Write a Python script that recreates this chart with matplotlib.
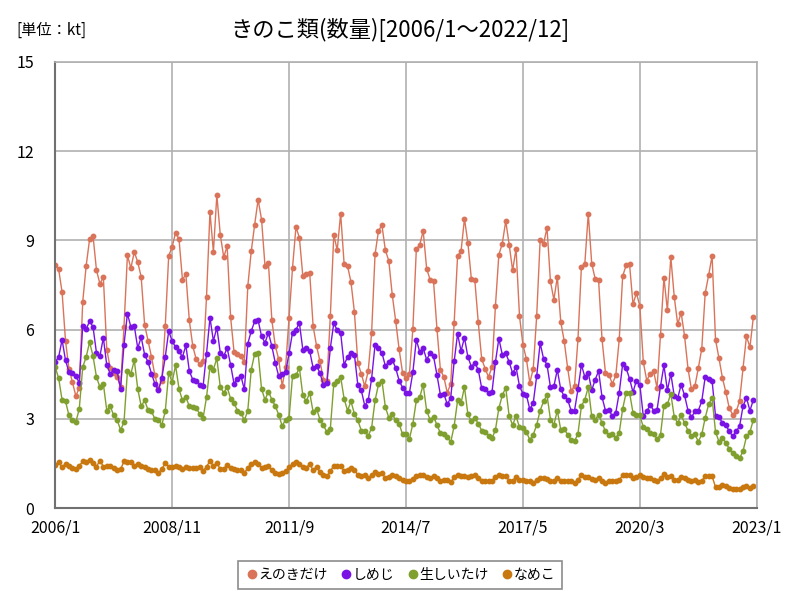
import matplotlib
matplotlib.use('Agg')
import matplotlib.pyplot as plt
from matplotlib.lines import Line2D

plt.rcParams['font.family'] = ['Noto Sans CJK JP', 'DejaVu Sans']

# monthly values 2006/1 .. 2022/12 (kt)
enoki = [8.16, 8.03, 7.26, 5.62, 4.69, 4.24, 3.77, 4.04, 6.93, 8.14, 9.04, 9.15,
         8.0, 7.54, 7.77, 5.33, 4.71, 4.54, 4.41, 4.07, 6.09, 8.5, 8.07, 8.61,
         8.27, 7.77, 6.17, 5.62, 5.08, 4.46, 4.01, 4.29, 6.12, 8.48, 8.78, 9.26,
         9.04, 7.68, 7.86, 6.31, 5.45, 5.0, 4.84, 4.93, 7.1, 9.96, 8.61, 10.52,
         9.19, 8.44, 8.8, 6.42, 5.25, 5.19, 5.1, 4.91, 7.46, 8.63, 9.53, 10.37,
         9.7, 8.14, 8.25, 6.31, 5.45, 5.0, 4.1, 4.74, 6.4, 8.07, 9.45, 9.09,
         7.8, 7.88, 7.9, 6.11, 5.45, 4.93, 4.32, 4.26, 6.46, 9.19, 8.67, 9.9,
         8.22, 8.14, 7.6, 6.59, 4.88, 4.52, 4.1, 4.6, 5.89, 8.53, 9.32, 9.51,
         8.67, 8.31, 7.17, 6.29, 5.34, 4.55, 4.37, 4.52, 6.03, 8.7, 8.86, 9.32,
         8.05, 7.68, 7.63, 6.03, 4.65, 4.41, 3.88, 4.18, 6.23, 8.48, 8.63, 9.73,
         8.91, 7.71, 7.68, 6.26, 5.02, 4.69, 4.41, 4.74, 6.79, 8.52, 8.89, 9.65,
         8.86, 7.99, 8.72, 6.46, 5.49, 5.02, 4.21, 4.69, 6.46, 9.0, 8.89, 9.42,
         7.62, 7.01, 7.77, 6.26, 5.62, 4.71, 3.94, 4.1, 5.67, 8.11, 8.22, 9.9,
         8.22, 7.71, 7.66, 5.67, 4.55, 4.48, 4.18, 4.46, 5.67, 7.8, 8.16, 8.2,
         6.85, 7.23, 6.79, 4.91, 4.29, 4.52, 4.6, 4.04, 5.83, 7.75, 6.65, 8.44,
         7.1, 6.18, 6.57, 5.78, 4.69, 3.99, 4.1, 4.71, 5.36, 7.23, 7.83, 8.48,
         5.66, 5.04, 4.38, 3.9, 3.36, 3.14, 3.25, 3.6, 4.71, 5.78, 5.41, 6.42]

shimeji = [4.91, 5.08, 5.66, 4.97, 4.57, 4.54, 4.43, 4.22, 6.12, 6.01, 6.29, 6.09,
           5.22, 5.11, 5.73, 4.8, 4.52, 4.65, 4.61, 4.01, 5.49, 6.54, 6.09, 6.12,
           5.38, 5.75, 5.16, 4.91, 4.52, 4.18, 3.96, 4.37, 5.08, 5.95, 5.62, 5.41,
           5.28, 5.08, 5.47, 4.61, 4.32, 4.29, 4.15, 4.1, 5.19, 6.4, 5.62, 6.07,
           5.22, 5.11, 5.38, 4.82, 4.18, 4.35, 4.44, 3.99, 5.53, 5.95, 6.28, 6.31,
           5.78, 5.56, 5.89, 5.44, 4.88, 4.43, 4.52, 4.57, 5.21, 5.9, 6.0, 6.22,
           5.33, 5.39, 5.28, 4.71, 4.78, 4.54, 4.13, 4.2, 5.38, 6.22, 5.98, 5.89,
           4.82, 5.08, 5.22, 5.16, 4.13, 3.96, 3.45, 3.62, 4.35, 5.49, 5.38, 5.22,
           4.78, 4.91, 4.99, 4.71, 4.29, 4.05, 3.88, 3.88, 4.57, 5.66, 5.25, 5.38,
           4.99, 5.21, 5.11, 4.48, 3.81, 3.85, 3.49, 3.7, 4.93, 5.86, 5.28, 5.73,
           5.08, 4.76, 4.88, 4.66, 4.04, 3.99, 3.88, 3.9, 4.91, 5.7, 5.16, 5.21,
           4.91, 4.54, 4.74, 4.1, 3.85, 3.81, 3.32, 3.54, 4.44, 5.55, 5.02, 4.82,
           4.07, 4.1, 4.65, 3.99, 3.76, 3.65, 3.28, 3.28, 3.99, 4.82, 4.41, 4.55,
           3.96, 4.32, 4.61, 3.73, 3.28, 3.31, 3.09, 3.21, 3.88, 4.85, 4.71, 4.35,
           3.9, 4.29, 4.15, 3.09, 3.25, 3.48, 3.28, 3.31, 4.1, 4.8, 3.96, 4.52,
           3.77, 3.7, 4.15, 3.79, 3.28, 3.06, 3.25, 3.28, 3.6, 4.41, 4.33, 4.29,
           3.09, 3.06, 2.87, 2.8, 2.58, 2.42, 2.58, 2.76, 3.43, 3.71, 3.28, 3.64]

shiitake = [4.74, 4.37, 3.64, 3.59, 3.12, 2.97, 2.89, 3.34, 4.74, 5.08, 5.58, 5.11,
            4.41, 4.07, 4.18, 3.28, 3.43, 3.12, 2.97, 2.63, 2.89, 4.6, 4.52, 4.97,
            4.01, 3.43, 3.62, 3.3, 3.25, 3.0, 2.97, 2.8, 3.25, 4.55, 4.24, 4.8,
            4.01, 3.62, 3.73, 3.43, 3.4, 3.36, 3.17, 3.03, 3.73, 4.74, 4.66, 5.04,
            4.07, 3.88, 4.07, 3.68, 3.53, 3.28, 3.21, 2.95, 3.28, 4.65, 5.19, 5.21,
            4.01, 3.64, 3.92, 3.65, 3.43, 3.14, 2.76, 2.98, 3.03, 4.43, 4.46, 4.72,
            3.79, 3.59, 3.88, 3.23, 3.34, 2.97, 2.78, 2.56, 2.67, 4.18, 4.29, 4.41,
            3.68, 3.28, 3.59, 3.17, 2.95, 2.61, 2.61, 2.42, 2.7, 3.62, 4.16, 4.29,
            3.4, 3.04, 3.17, 2.95, 2.84, 2.48, 2.5, 2.33, 2.84, 3.62, 3.73, 4.15,
            3.28, 2.97, 3.08, 2.8, 2.52, 2.48, 2.39, 2.22, 2.76, 3.62, 3.53, 4.07,
            3.15, 2.93, 3.04, 2.84, 2.61, 2.56, 2.44, 2.35, 2.63, 3.36, 3.79, 4.05,
            3.09, 2.8, 3.09, 2.72, 2.7, 2.56, 2.3, 2.47, 2.8, 3.28, 3.59, 3.81,
            2.98, 2.8, 3.28, 2.63, 2.67, 2.47, 2.3, 2.25, 2.5, 3.43, 3.65, 4.07,
            3.09, 2.97, 3.14, 2.87, 2.58, 2.47, 2.5, 2.37, 2.53, 3.34, 3.88, 3.88,
            3.21, 3.14, 3.12, 2.72, 2.67, 2.53, 2.5, 2.33, 2.47, 3.45, 3.49, 3.85,
            3.06, 2.86, 3.12, 2.86, 2.61, 2.44, 2.48, 2.24, 2.48, 3.04, 3.49, 3.71,
            2.56, 2.24, 2.37, 2.19, 2.0, 1.85, 1.77, 1.68, 1.92, 2.41, 2.56, 2.97]

nameko = [1.46, 1.55, 1.38, 1.49, 1.41, 1.36, 1.31, 1.43, 1.57, 1.55, 1.63, 1.51,
          1.4, 1.6, 1.4, 1.43, 1.41, 1.36, 1.29, 1.31, 1.57, 1.55, 1.55, 1.41,
          1.49, 1.43, 1.38, 1.32, 1.29, 1.27, 1.18, 1.32, 1.51, 1.4, 1.4, 1.43,
          1.4, 1.32, 1.4, 1.36, 1.36, 1.36, 1.38, 1.24, 1.4, 1.58, 1.43, 1.51,
          1.32, 1.32, 1.46, 1.36, 1.32, 1.29, 1.29, 1.18, 1.36, 1.49, 1.55, 1.47,
          1.36, 1.4, 1.43, 1.27, 1.18, 1.15, 1.18, 1.24, 1.38, 1.49, 1.55, 1.47,
          1.38, 1.36, 1.49, 1.27, 1.4, 1.21, 1.13, 1.07, 1.24, 1.43, 1.41, 1.43,
          1.24, 1.29, 1.36, 1.27, 1.13, 1.08, 1.12, 1.02, 1.1, 1.21, 1.15, 1.18,
          1.01, 1.04, 1.1, 1.07, 1.01, 0.95, 0.91, 0.9, 0.99, 1.08, 1.1, 1.12,
          1.04, 1.01, 1.07, 1.01, 0.93, 0.95, 0.96, 0.87, 1.04, 1.12, 1.07, 1.08,
          1.04, 1.08, 1.1, 1.01, 0.93, 0.91, 0.91, 0.93, 1.04, 1.1, 1.07, 1.07,
          0.93, 0.93, 1.04, 0.96, 0.95, 0.9, 0.91, 0.85, 0.95, 1.01, 1.01, 0.99,
          0.9, 0.93, 1.01, 0.9, 0.93, 0.93, 0.9, 0.84, 0.95, 1.13, 1.04, 1.04,
          0.99, 0.96, 1.02, 0.91, 0.85, 0.9, 0.91, 0.93, 0.96, 1.1, 1.1, 1.1,
          1.01, 1.04, 1.13, 1.04, 1.01, 1.01, 0.96, 0.9, 1.01, 1.15, 1.04, 1.08,
          0.96, 0.96, 1.04, 1.02, 0.95, 0.9, 0.96, 0.87, 0.93, 1.07, 1.07, 1.07,
          0.71, 0.71, 0.78, 0.73, 0.67, 0.63, 0.65, 0.63, 0.71, 0.74, 0.68, 0.74]

names = ['えのきだけ', 'しめじ', '生しいたけ', 'なめこ']
colors = ['#d9745a', '#7a12e6', '#7fa02e', '#c8780e']
tick_pos = [0, 34, 68, 102, 136, 170, 204]
tick_labels = ['2006/1', '2008/11', '2011/9', '2014/7', '2017/5', '2020/3', '2023/1']

months = list(range(len(enoki)))

fig = plt.figure(figsize=(8, 6), dpi=100)
ax = fig.add_axes([0.069, 0.153, 0.877, 0.744])

for vals, c in zip([enoki, shimeji, shiitake, nameko], colors):
    ax.plot(months, vals, color=c, lw=1, marker='o', ms=3.2, mec=c, mfc=c)

ax.set_xlim(0, 204)
ax.set_ylim(0, 15)
ax.set_yticks([0, 3, 6, 9, 12, 15])
ax.set_xticks(tick_pos)
ax.set_xticklabels(tick_labels)
ax.tick_params(length=0, labelsize=11.5)
ax.tick_params(axis='x', pad=8)
ax.tick_params(axis='y', pad=15)
ax.grid(True, color='#b0b0b0', lw=1.2)
ax.set_axisbelow(True)
for s in ['left', 'bottom']:
    ax.spines[s].set_color('#707070')
    ax.spines[s].set_linewidth(1.5)
for s in ['top', 'right']:
    ax.spines[s].set_color('#b0b0b0')
    ax.spines[s].set_linewidth(1.2)

fig.text(0.5, 0.95, 'きのこ類(数量)[2006/1～2022/12]', ha='center', va='center', fontsize=16)
fig.text(0.02, 0.95, '[単位：kt]', ha='left', va='center', fontsize=11)

handles = [Line2D([], [], color=c, marker='o', ls='', ms=6) for c in colors]
leg = fig.legend(handles, names, loc='center', bbox_to_anchor=(0.5, 0.042), ncol=4,
                 fontsize=10, handletextpad=0.0, columnspacing=0.8, handlelength=1.0,
                 fancybox=False, edgecolor='#707070', borderpad=0.5)
leg.get_frame().set_linewidth(1.2)

fig.savefig('out.png', dpi=100)
